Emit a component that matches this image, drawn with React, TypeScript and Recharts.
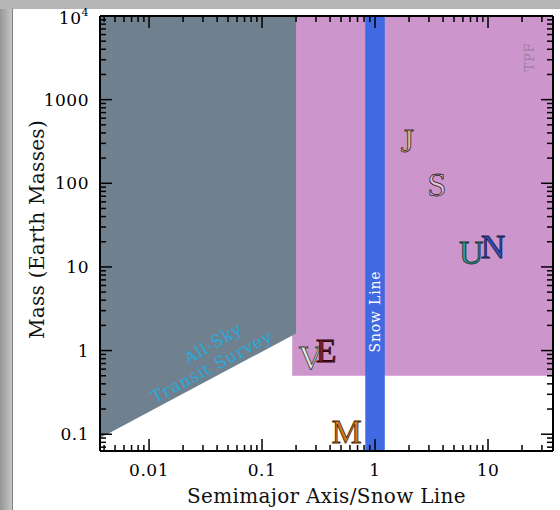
import React from 'react';
import { ComposedChart, Area, Scatter, XAxis, YAxis, ReferenceArea, Label } from 'recharts';

const X_MIN = 0.00368;
const X_MAX = 37.6;
const Y_MIN = 0.063;
const Y_MAX = 10000;

// tick values
const xMajor = [0.01, 0.1, 1, 10];
const xLabels = ['0.01', '0.1', '1', '10'];
const xTicks = [
  0.004, 0.005, 0.006, 0.007, 0.008, 0.009, 0.01,
  0.02, 0.03, 0.04, 0.05, 0.06, 0.07, 0.08, 0.09, 0.1,
  0.2, 0.3, 0.4, 0.5, 0.6, 0.7, 0.8, 0.9, 1,
  2, 3, 4, 5, 6, 7, 8, 9, 10,
  20, 30,
];
const yMajor = [0.1, 1, 10, 100, 1000, 10000];
const yLabels = ['0.1', '1', '10', '100', '1000', '10'];
const yTicks = [
  0.07, 0.08, 0.09, 0.1,
  0.2, 0.3, 0.4, 0.5, 0.6, 0.7, 0.8, 0.9, 1,
  2, 3, 4, 5, 6, 7, 8, 9, 10,
  20, 30, 40, 50, 60, 70, 80, 90, 100,
  200, 300, 400, 500, 600, 700, 800, 900, 1000,
  2000, 3000, 4000, 5000, 6000, 7000, 8000, 9000, 10000,
];

// transit survey region (grey)
const surveyAxis = [X_MIN, 0.2];
const surveyLow = [0.09, 1.6];
const surveyHigh = [10000, 10000];

// TPF region (pink)
const tpfAxis = [0.185, X_MAX];
const tpfMass = [0.5, Y_MAX];

// snow line band
const snowAxis = [0.82, 1.22];

// solar system planets
const planetNames = ['J', 'S', 'U', 'N', 'V', 'E', 'M'];
const planetAxis = [1.93, 3.53, 7.1, 11.1, 0.27, 0.37, 0.56];
const planetMass = [318, 95, 14.5, 17.1, 0.815, 1.0, 0.107];

// annotations
const noteTexts = ['Snow Line', 'TPF', 'All-Sky', 'Transit Survey'];
const noteAxis = [1.0, 23.5, 0.037, 0.036];
const noteMass = [2.93, 3230, 1.21, 0.64];

const surveyData = surveyAxis.map((a, i) => ({ a, band: [surveyLow[i], surveyHigh[i]] }));
const planetData = planetNames.map((name, i) => ({ name, a: planetAxis[i], m: planetMass[i] }));
const noteData = noteTexts.map((name, i) => ({ name, a: noteAxis[i], m: noteMass[i] }));

const planetStyle: Record<string, { fill: string; stroke: string }> = {
  J: { fill: '#dcbb8c', stroke: '#3b2a1c' },
  S: { fill: '#e6c2dc', stroke: '#2a1a22' },
  U: { fill: '#2f9a8c', stroke: '#10302c' },
  N: { fill: '#3550b8', stroke: '#101a40' },
  V: { fill: '#ecebe2', stroke: '#3a3a36' },
  E: { fill: '#8c1c2a', stroke: '#1c0408' },
  M: { fill: '#d47a1e', stroke: '#4a2404' },
};

const noteStyle: Record<string, { color: string; size: number; angle: number }> = {
  'Snow Line': { color: '#ffffff', size: 14, angle: -90 },
  TPF: { color: '#9d809f', size: 13, angle: -90 },
  'All-Sky': { color: '#28aadc', size: 16.5, angle: -30 },
  'Transit Survey': { color: '#28aadc', size: 16.5, angle: -28 },
};

const SERIF = '"DejaVu Serif", serif';
const TICK_W = 1.5;

const BottomTick = (props: any) => {
  const { x, y, payload } = props;
  const idx = xMajor.indexOf(payload.value);
  const len = idx >= 0 ? 12 : 6;
  return (
    <g>
      <line x1={x} x2={x} y1={y} y2={y - len} stroke="#000" strokeWidth={TICK_W} />
      {idx >= 0 && (
        <text x={x} y={y + 25} textAnchor="middle" fontFamily={SERIF} fontSize={17} letterSpacing={0.5} fill="#000">
          {xLabels[idx]}
        </text>
      )}
    </g>
  );
};

const TopTick = (props: any) => {
  const { x, y, payload } = props;
  const len = xMajor.includes(payload.value) ? 12 : 6;
  return <line x1={x} x2={x} y1={y} y2={y + len} stroke="#000" strokeWidth={TICK_W} />;
};

const LeftTick = (props: any) => {
  const { x, y, payload } = props;
  const idx = yMajor.indexOf(payload.value);
  const len = idx >= 0 ? 12 : 6;
  return (
    <g>
      <line x1={x} x2={x + len} y1={y} y2={y} stroke="#000" strokeWidth={TICK_W} />
      {idx >= 0 && (
        <text x={x - 11} y={payload.value === 10000 ? y + 8 : y + 6} textAnchor="end" fontFamily={SERIF} fontSize={17} letterSpacing={0.5} fill="#000">
          {yLabels[idx]}
          {payload.value === 10000 && (
            <tspan fontSize={11} dy={-8}>4</tspan>
          )}
        </text>
      )}
    </g>
  );
};

const RightTick = (props: any) => {
  const { x, y, payload } = props;
  const len = yMajor.includes(payload.value) ? 12 : 6;
  return <line x1={x} x2={x - len} y1={y} y2={y} stroke="#000" strokeWidth={TICK_W} />;
};

const PlanetShape = (props: any) => {
  const { cx, cy, payload } = props;
  const s = planetStyle[payload.name];
  return (
    <text
      x={cx}
      y={cy + 11}
      textAnchor="middle"
      fontFamily='"Liberation Serif", serif'
      fontSize={34}
      fill={s.fill}
      stroke={s.stroke}
      strokeWidth={0.8}
    >
      {payload.name}
    </text>
  );
};

const NoteShape = (props: any) => {
  const { cx, cy, payload } = props;
  const s = noteStyle[payload.name];
  return (
    <text
      x={cx}
      y={cy}
      textAnchor="middle"
      dominantBaseline="central"
      fontFamily={SERIF}
      fontSize={s.size}
      letterSpacing={0.8}
      fill={s.color}
      transform={`rotate(${s.angle}, ${cx}, ${cy})`}
    >
      {payload.name}
    </text>
  );
};

export default function App() {
  return (
    <div style={{ position: 'absolute', left: 0, top: 0, width: 560, height: 510, background: '#fff', overflow: 'hidden' }}>
      <div style={{ position: 'absolute', left: 0, top: 0, width: 560, height: 9, background: '#b5b5b5' }} />
      <div
        style={{
          position: 'absolute',
          left: 0,
          top: 9,
          width: 12,
          height: 501,
          background: 'linear-gradient(to right, #969696, #c6c6c6)',
          borderRight: '1px dotted #6a6a6a',
        }}
      />
      <div style={{ position: 'absolute', left: 0, top: 0 }}>
        <ComposedChart width={560} height={510} data={surveyData} margin={{ top: 0, right: 0, bottom: 0, left: 0 }}>
          <XAxis
            dataKey="a"
            type="number"
            scale="log"
            domain={[X_MIN, X_MAX]}
            allowDataOverflow
            ticks={xTicks}
            interval={0}
            tickSize={0}
            tickMargin={0}
            tickLine={false}
            tick={BottomTick}
            height={59}
            axisLine={{ stroke: '#000', strokeWidth: 2 }}
          >
            <Label
              content={(p: any) => (
                <text
                  x={p.viewBox.x + p.viewBox.width / 2}
                  y={p.viewBox.y + 52}
                  textAnchor="middle"
                  fontFamily={SERIF}
                  fontSize={20}
                  letterSpacing={0.3}
                  fill="#111"
                >
                  Semimajor Axis/Snow Line
                </text>
              )}
            />
          </XAxis>
          <XAxis
            xAxisId="top"
            orientation="top"
            dataKey="a"
            type="number"
            scale="log"
            domain={[X_MIN, X_MAX]}
            allowDataOverflow
            ticks={xTicks}
            interval={0}
            tickSize={0}
            tickMargin={0}
            tickLine={false}
            tick={TopTick}
            height={16}
            axisLine={{ stroke: '#000', strokeWidth: 2 }}
          />
          <YAxis
            type="number"
            scale="log"
            domain={[Y_MIN, Y_MAX]}
            allowDataOverflow
            ticks={yTicks}
            interval={0}
            tickSize={0}
            tickMargin={0}
            tickLine={false}
            tick={LeftTick}
            width={100}
            axisLine={{ stroke: '#000', strokeWidth: 2 }}
          >
            <Label
              content={(p: any) => {
                const cx = 44;
                const cy = p.viewBox.y + p.viewBox.height / 2 - 4;
                return (
                  <text
                    x={cx}
                    y={cy}
                    textAnchor="middle"
                    fontFamily={SERIF}
                    fontSize={20}
                    letterSpacing={0.3}
                    fill="#111"
                    transform={`rotate(-90, ${cx}, ${cy})`}
                  >
                    Mass (Earth Masses)
                  </text>
                );
              }}
            />
          </YAxis>
          <YAxis
            yAxisId="right"
            orientation="right"
            type="number"
            scale="log"
            domain={[Y_MIN, Y_MAX]}
            allowDataOverflow
            ticks={yTicks}
            interval={0}
            tickSize={0}
            tickMargin={0}
            tickLine={false}
            tick={RightTick}
            width={7}
            axisLine={{ stroke: '#000', strokeWidth: 2 }}
          />
          <ReferenceArea
            x1={tpfAxis[0]}
            x2={tpfAxis[1]}
            y1={tpfMass[0]}
            y2={tpfMass[1]}
            fill="#cc95cc"
            fillOpacity={1}
            stroke="none"
            ifOverflow="hidden"
            zIndex={10}
          />
          <Area
            dataKey="band"
            type="linear"
            fill="#6f808f"
            fillOpacity={1}
            stroke="none"
            isAnimationActive={false}
            activeDot={false}
            dot={false}
            zIndex={20}
          />
          <ReferenceArea
            x1={snowAxis[0]}
            x2={snowAxis[1]}
            y1={Y_MIN}
            y2={Y_MAX}
            fill="#4169e1"
            fillOpacity={1}
            stroke="none"
            ifOverflow="hidden"
            zIndex={30}
          />
          <Scatter data={noteData} dataKey="m" shape={NoteShape} isAnimationActive={false} />
          <Scatter data={planetData} dataKey="m" shape={PlanetShape} isAnimationActive={false} />
        </ComposedChart>
      </div>
    </div>
  );
}
